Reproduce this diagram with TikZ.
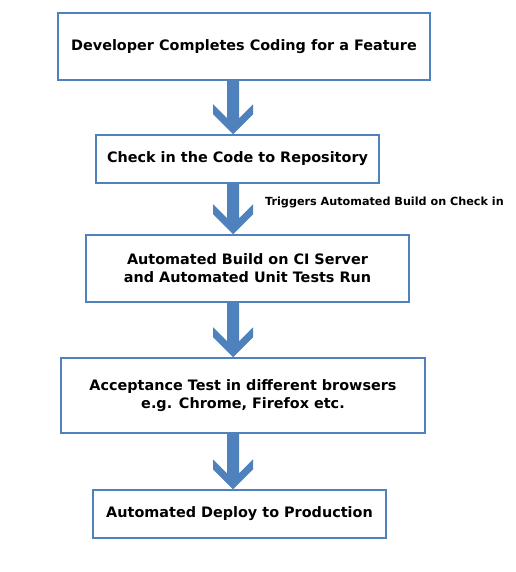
\documentclass[tikz,border=0pt]{standalone}
\usepackage{fontspec}
\setmainfont{DejaVu Sans}
\usetikzlibrary{positioning,calc}
\definecolor{flowBlue}{HTML}{4F81BD}
\definecolor{arrowBlue}{HTML}{4F81BD}
\tikzset{
    stepbox/.style={draw=flowBlue,fill=white,line width=1.5pt,
        align=center,font=\fontsize{14.4}{18}\selectfont\bfseries,inner sep=0pt},
    note/.style={font=\fontsize{11.2}{13}\selectfont\bfseries,anchor=west,inner sep=0pt},
    blockarrow/.style={fill=arrowBlue}
}
% fat down arrow from one box to the next
\newcommand{\downflow}[2]{%
    \fill[blockarrow] let \p1=(#1.south -| axis), \p2=(#2.north -| axis) in
        (\x1-6pt,\y1) -- (\x1-6pt,\y2+16pt) -- (\x1-20pt,\y2+30pt) -- (\x1-20pt,\y2+20pt)
        -- (\x1,\y2) -- (\x1+20pt,\y2+20pt) -- (\x1+20pt,\y2+30pt) -- (\x1+6pt,\y2+16pt)
        -- (\x1+6pt,\y1) -- cycle;}
\begin{document}
\begin{tikzpicture}[x=1pt,y=-1pt]
    \useasboundingbox (0,0) rectangle (515,572);
    \coordinate (axis) at (233,0);
    \node[stepbox,minimum width=372pt,minimum height=67pt] (dev) at (244,46.5) {Developer Completes Coding for a Feature};
    \node[stepbox,minimum width=283pt,minimum height=48pt] (checkin) at (237.5,159) {Check in the Code to Repository};
    \node[stepbox,minimum width=323pt,minimum height=67pt] (build) at (247.5,268.5) {Automated Build on CI Server\\and Automated Unit Tests Run};
    \node[stepbox,minimum width=364pt,minimum height=75pt] (accept) at (243,395.5) {Acceptance Test in different browsers\\e.g. Chrome, Firefox etc.};
    \node[stepbox,minimum width=293pt,minimum height=48pt] (deploy) at (239.5,514) {Automated Deploy to Production};
    \node[note] (trigger) at (265,202) {Triggers Automated Build on Check in};
    \downflow{dev}{checkin}
    \downflow{checkin}{build}
    \downflow{build}{accept}
    \downflow{accept}{deploy}
\end{tikzpicture}
\end{document}
